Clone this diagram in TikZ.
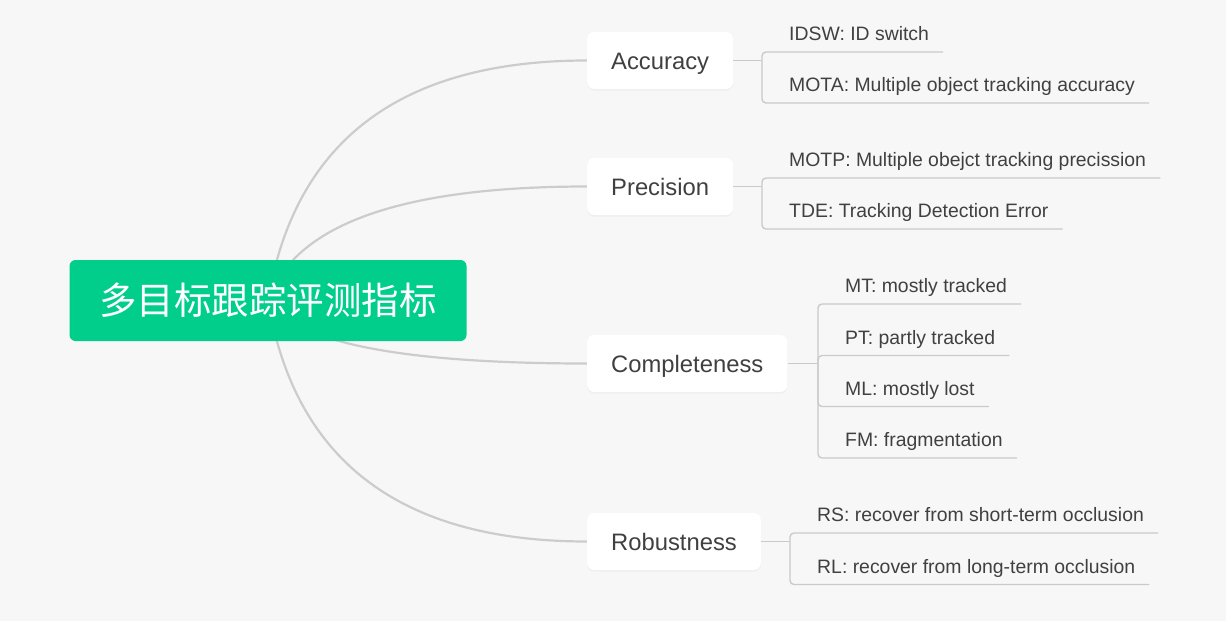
\documentclass[tikz,border=0pt]{standalone}
\usepackage{fontspec}
\setmainfont{Liberation Sans}
\newfontfamily\cjk{Noto Sans CJK SC}
\usetikzlibrary{shadows,backgrounds,calc}
\definecolor{bgcol}{HTML}{F7F7F7}
\definecolor{rootgreen}{HTML}{00CE8A}
\definecolor{curvegray}{HTML}{CCCCCC}
\definecolor{linegray}{HTML}{CACACA}
\definecolor{textgray}{HTML}{404040}

\begin{document}
\begin{tikzpicture}[x=1pt,y=-1pt,
  root/.style={fill=rootgreen,text=white,rounded corners=6pt,inner sep=0pt,
    minimum width=397pt,minimum height=81pt,font=\cjk\fontsize{37.5}{40}\selectfont},
  branch/.style={anchor=west,fill=white,rounded corners=7pt,inner xsep=24pt,
    text height=17pt,text depth=0pt,minimum height=57pt,text=textgray,
    font=\fontsize{23.8}{28}\selectfont,
    drop shadow={shadow xshift=0pt,shadow yshift=-1.5pt,opacity=0.07}},
  curve/.style={draw=curvegray,line width=2.2pt},
  twig/.style={draw=linegray,line width=1.4pt,rounded corners=4pt}]
  \tikzstyle{leaf}=[anchor=south west,inner xsep=14pt,inner ysep=7pt,text depth=4pt,
    text=textgray,font=\fontsize{19.4}{23}\selectfont]

  \node[root]   (root) at (268,300.5) {多目标跟踪评测指标};
  \coordinate   (ctl)  at (308,300.5);

  \node[branch] (acc)  at (587,60.5)  {Accuracy};
  \node[branch] (prec) at (587,186.5) {Precision};
  \node[branch] (comp) at (587,363.5) {Completeness};
  \node[branch] (rob)  at (587,541.5) {Robustness};

  \coordinate (acc-j)  at (762,60.5);
  \coordinate (prec-j) at (762,186.5);
  \coordinate (comp-j) at (818,363.5);
  \coordinate (rob-j)  at (790,541.5);

  \node[leaf] (idsw) at (775,52)    {IDSW: ID switch};
  \node[leaf] (mota) at (775,103)   {MOTA: Multiple object tracking accuracy};
  \node[leaf] (motp) at (775,178)   {MOTP: Multiple obejct tracking precission};
  \node[leaf] (tde)  at (775,229)   {TDE: Tracking Detection Error};
  \node[leaf] (mt)   at (831,304)   {MT: mostly tracked};
  \node[leaf] (pt)   at (831,355.5) {PT: partly tracked};
  \node[leaf] (ml)   at (831,406.5) {ML: mostly lost};
  \node[leaf] (fm)   at (831,458)   {FM: fragmentation};
  \node[leaf] (rs)   at (803,533)   {RS: recover from short-term occlusion};
  \node[leaf] (rl)   at (803,584.5) {RL: recover from long-term occlusion};

  \begin{scope}[on background layer]
    \fill[bgcol] (0,0) rectangle (1226,621);
    \draw[curve] (root.center) .. controls ($(root.center)!2/3!(ctl |- acc.west)$)
      and ($(acc.west)!2/3!(ctl |- acc.west)$) .. (acc.west);
    \draw[curve] (root.center) .. controls ($(root.center)!2/3!(ctl |- prec.west)$)
      and ($(prec.west)!2/3!(ctl |- prec.west)$) .. (prec.west);
    \draw[curve] (root.center) .. controls ($(root.center)!2/3!(ctl |- comp.west)$)
      and ($(comp.west)!2/3!(ctl |- comp.west)$) .. (comp.west);
    \draw[curve] (root.center) .. controls ($(root.center)!2/3!(ctl |- rob.west)$)
      and ($(rob.west)!2/3!(ctl |- rob.west)$) .. (rob.west);
  \end{scope}

  \draw[twig] (acc.east) -- (acc-j);
  \draw[twig] (prec.east) -- (prec-j);
  \draw[twig] (comp.east) -- (comp-j);
  \draw[twig] (rob.east) -- (rob-j);

  \draw[twig] (acc-j) |- (idsw.south east);
  \draw[twig] (acc-j) |- (mota.south east);
  \draw[twig] (prec-j) |- (motp.south east);
  \draw[twig] (prec-j) |- (tde.south east);
  \draw[twig] (comp-j) |- (mt.south east);
  \draw[twig] (comp-j) |- (pt.south east);
  \draw[twig] (comp-j) |- (ml.south east);
  \draw[twig] (comp-j) |- (fm.south east);
  \draw[twig] (rob-j) |- (rs.south east);
  \draw[twig] (rob-j) |- (rl.south east);
\end{tikzpicture}
\end{document}
